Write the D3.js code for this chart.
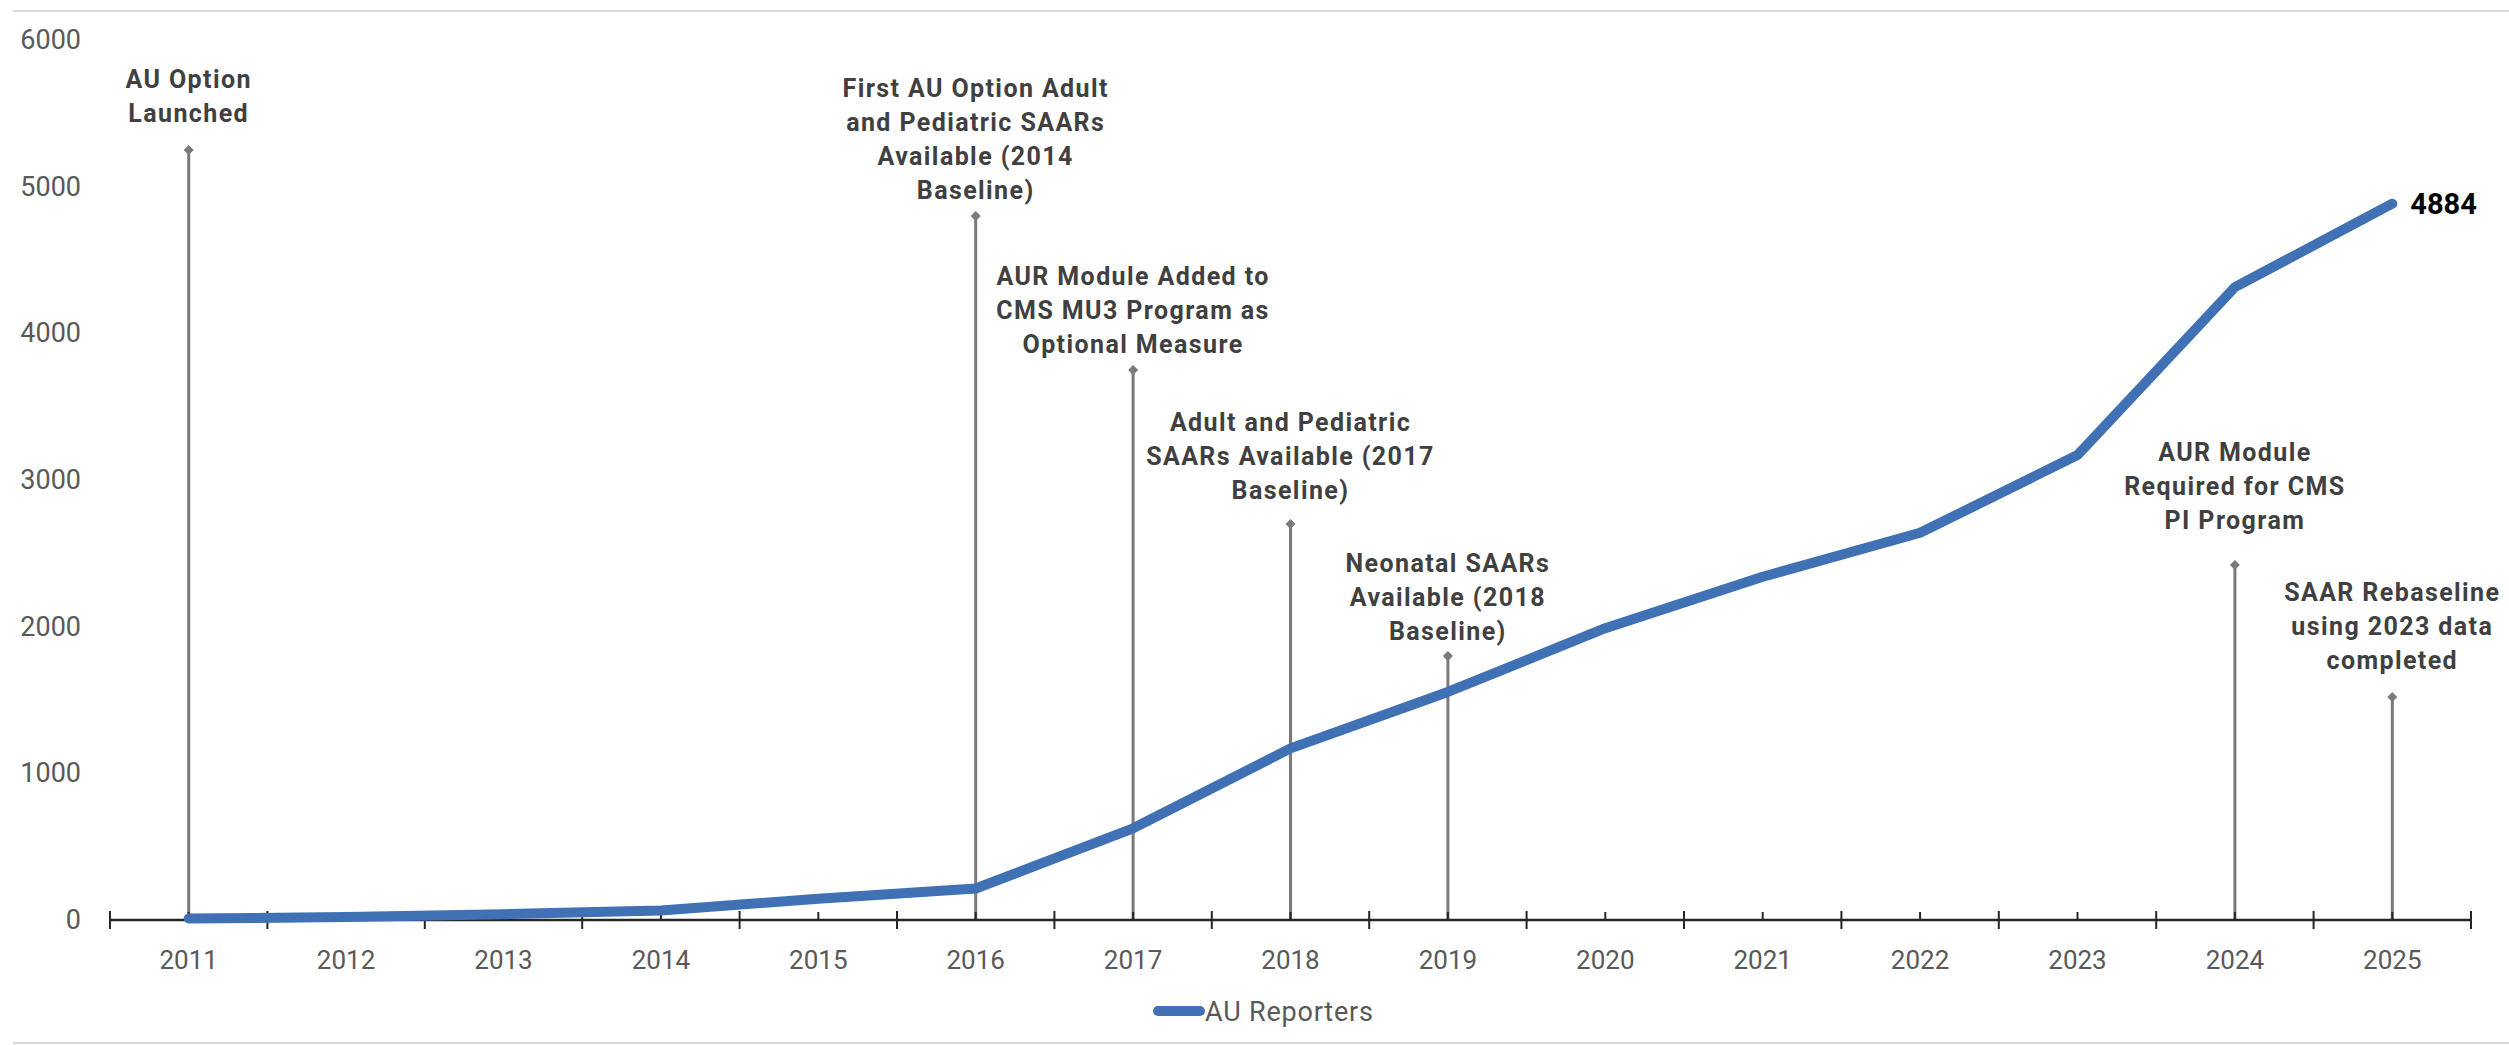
<!DOCTYPE html>
<html>
<head>
<meta charset="utf-8">
<script src="https://cdn.jsdelivr.net/npm/d3@7"></script>
<style>
  html, body { margin: 0; padding: 0; background: #ffffff; overflow: hidden; }
  svg { display: block; }
</style>
</head>
<body>
<div id="chart"></div>
<script>
// ---------------- DATA ----------------
const years = ["2011","2012","2013","2014","2015","2016","2017","2018","2019","2020","2021","2022","2023","2024","2025"];
const auReporters = [10, 20, 40, 65, 145, 215, 625, 1170, 1555, 1990, 2340, 2640, 3170, 4315, 4884];
const yTickValues = [0, 1000, 2000, 3000, 4000, 5000, 6000];
const seriesName = "AU Reporters";
const lastValueLabel = "4884";

const eventYears = ["2011", "2016", "2017", "2018", "2019", "2024", "2025"];
const eventHeights = [5250, 4800, 3750, 2700, 1800, 2420, 1520];
const eventLabels = [
  ["AU Option", "Launched"],
  ["First AU Option Adult", "and Pediatric SAARs", "Available (2014", "Baseline)"],
  ["AUR Module Added to", "CMS MU3 Program as", "Optional Measure"],
  ["Adult and Pediatric", "SAARs Available (2017", "Baseline)"],
  ["Neonatal SAARs", "Available (2018", "Baseline)"],
  ["AUR Module", "Required for CMS", "PI Program"],
  ["SAAR Rebaseline", "using 2023 data", "completed"]
];

// ---------------- LAYOUT ----------------
const W = 2509, H = 1045;
const plot = { left: 110, right: 2471, top: 40, bottom: 920 };
const labelGaps = [37, 26, 26, 34, 25, 45, 37]; // px from last label line centre to marker
const lineStep = 34;

const svg = d3.select("#chart").append("svg")
  .attr("width", W).attr("height", H)
  .attr("viewBox", `0 0 ${W} ${H}`);

const x = d3.scaleBand().domain(years).range([plot.left, plot.right]).padding(0);
const y = d3.scaleLinear().domain([0, 6000]).range([plot.bottom, plot.top]);
const cx = d => x(d) + x.bandwidth() / 2;

// frame rules
svg.append("line").attr("x1", 13).attr("x2", W).attr("y1", 11).attr("y2", 11)
  .attr("stroke", "#d9d9d9").attr("stroke-width", 2);
svg.append("line").attr("x1", 13).attr("x2", W).attr("y1", 1043).attr("y2", 1043)
  .attr("stroke", "#d9d9d9").attr("stroke-width", 2);

// y axis labels (no axis line)
const yAxis = d3.axisLeft(y).tickValues(yTickValues).tickSize(0).tickPadding(0).tickFormat(d3.format("d"));
const gy = svg.append("g").attr("transform", `translate(81,0)`).call(yAxis);
gy.select(".domain").remove();
gy.selectAll("text")
  .attr("font-family", "Roboto, sans-serif")
  .attr("font-size", 27)
  .attr("fill", "#595959");

// annotation lines + markers
const ev = svg.append("g").attr("class", "events");
eventYears.forEach((yr, i) => {
  const xx = cx(yr);
  const top = y(eventHeights[i]);
  ev.append("line")
    .attr("x1", xx).attr("x2", xx)
    .attr("y1", y(0)).attr("y2", top)
    .attr("stroke", "#7a7a7a").attr("stroke-width", 3);
  ev.append("path")
    .attr("d", d3.symbol().type(d3.symbolSquare).size(50)())
    .attr("transform", `translate(${xx},${top}) rotate(45)`)
    .attr("fill", "#7a7a7a");
  const lines = eventLabels[i];
  const lastCenter = top - labelGaps[i];
  const t = ev.append("text")
    .attr("text-anchor", "middle")
    .attr("font-family", "Roboto, sans-serif")
    .attr("font-weight", "bold")
    .attr("font-size", 25)
    .attr("letter-spacing", 1.4)
    .attr("fill", "#404040");
  lines.forEach((ln, j) => {
    t.append("tspan")
      .attr("x", xx)
      .attr("y", lastCenter - (lines.length - 1 - j) * lineStep)
      .attr("dy", "0.36em")
      .text(ln);
  });
});

// x axis
const gx = svg.append("g").attr("transform", `translate(0,${plot.bottom})`);
gx.append("line").attr("x1", plot.left).attr("x2", plot.right)
  .attr("y1", 0).attr("y2", 0).attr("stroke", "#262626").attr("stroke-width", 2.5);
const bounds = years.map(d => x(d)).concat([plot.right]);
gx.selectAll("line.major").data(bounds).join("line").attr("class", "major")
  .attr("x1", d => d).attr("x2", d => d).attr("y1", -9).attr("y2", 9)
  .attr("stroke", "#262626").attr("stroke-width", 2);
gx.selectAll("line.minor").data(years).join("line").attr("class", "minor")
  .attr("x1", d => cx(d)).attr("x2", d => cx(d)).attr("y1", -8).attr("y2", 0)
  .attr("stroke", "#262626").attr("stroke-width", 2);
gx.selectAll("text.xl").data(years).join("text").attr("class", "xl")
  .attr("x", d => cx(d)).attr("y", 49)
  .attr("text-anchor", "middle")
  .attr("font-family", "Roboto, sans-serif")
  .attr("font-size", 26)
  .attr("fill", "#595959")
  .text(d => d);

// series line
const blue = "#3f71b4";
const line = d3.line().x((d, i) => cx(years[i])).y(d => y(d)).curve(d3.curveLinear);
svg.append("path").datum(auReporters)
  .attr("d", line)
  .attr("fill", "none")
  .attr("stroke", blue)
  .attr("stroke-width", 10)
  .attr("stroke-linejoin", "round")
  .attr("stroke-linecap", "round");

// last value label
const lastIdx = auReporters.length - 1;
svg.append("text")
  .attr("x", cx(years[lastIdx]) + 18)
  .attr("y", y(auReporters[lastIdx]))
  .attr("dy", "0.36em")
  .attr("font-family", "Roboto, sans-serif")
  .attr("font-weight", "bold")
  .attr("font-size", 29)
  .attr("fill", "#000000")
  .text(lastValueLabel);

// legend
const lg = svg.append("g").attr("transform", "translate(1158,1011)");
lg.append("line").attr("x1", 0).attr("x2", 42).attr("y1", 0).attr("y2", 0)
  .attr("stroke", blue).attr("stroke-width", 10).attr("stroke-linecap", "round");
lg.append("text").attr("x", 47).attr("y", 0).attr("dy", "0.36em")
  .attr("font-family", "Roboto, sans-serif")
  .attr("font-size", 27)
  .attr("letter-spacing", 0.8)
  .attr("fill", "#595959")
  .text(seriesName);
</script>
</body>
</html>
